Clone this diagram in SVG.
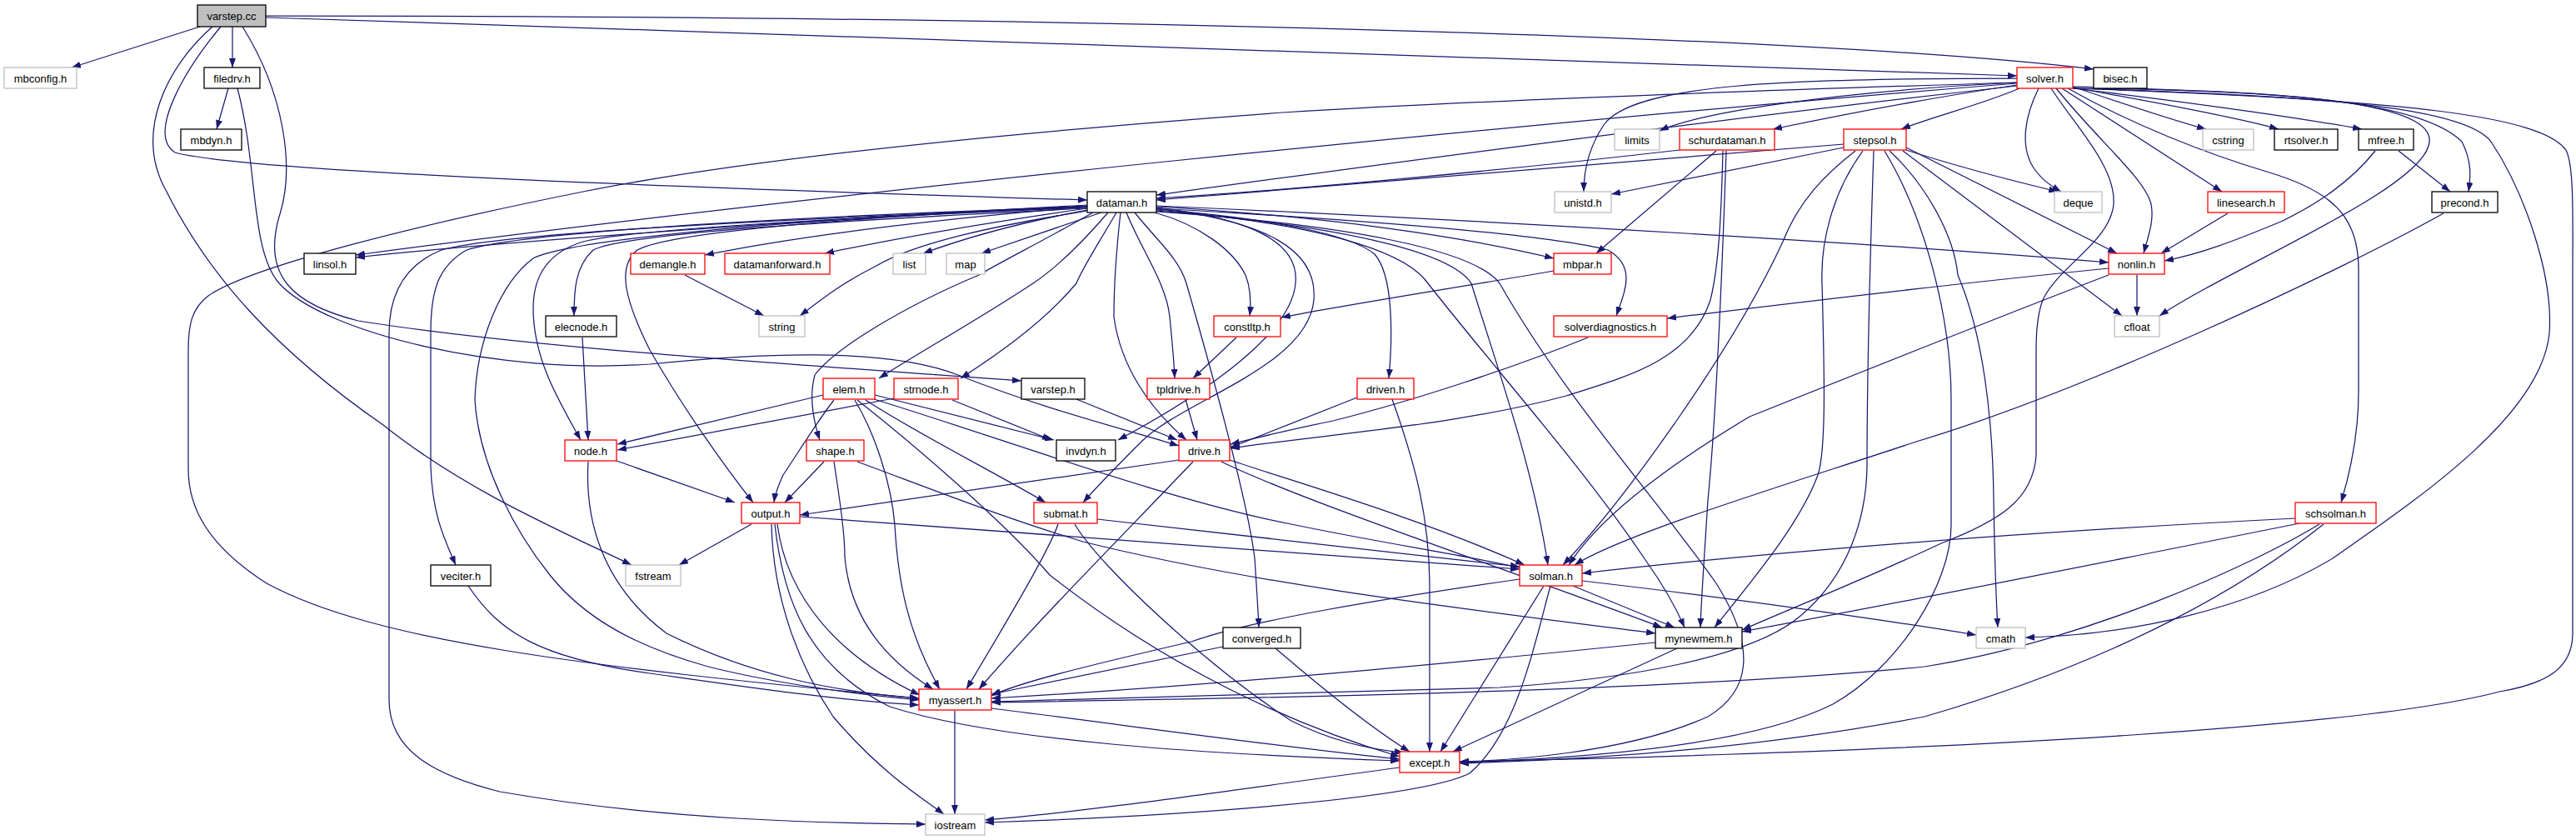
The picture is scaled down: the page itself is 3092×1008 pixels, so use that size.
<svg xmlns="http://www.w3.org/2000/svg" width="3092" height="1008" viewBox="0 0 3092 1008">
<defs>
<marker id="a" markerWidth="11" markerHeight="8" refX="11" refY="4" orient="auto" markerUnits="userSpaceOnUse"><path d="M0,0L11,4L0,8z" fill="#191970"/></marker>
<style>
.e path{fill:none;stroke:#191970;stroke-width:1.25;marker-end:url(#a)}
.n rect{fill:#fff;stroke:#000;stroke-width:1.3}
.r rect{stroke:#ff0000}
.g rect{stroke:#bfbfbf}
.c rect{fill:#bfbfbf}
.n text{font-family:"Liberation Sans",Arial,sans-serif;font-size:13px;text-anchor:middle;fill:#000}
</style>
</defs>
<rect width="3092" height="1008" fill="#fff"/>
<g id="edges" class="e">
<path d="M240,32 L86,81"/>
<path d="M279,32 L279,81"/>
<path d="M319,19 C1200,19 2150,40 2513,83"/>
<path d="M319,21 C1100,45 2000,82 2421,91"/>
<path d="M265,32 C225,80 175,160 210,183 C290,205 800,225 1305,240"/>
<path d="M255,32 C200,80 160,160 200,230 C250,330 330,420 460,510 C560,590 680,640 758,678"/>
<path d="M291,32 C340,110 355,200 335,260 C315,330 350,365 430,385 C650,420 1000,440 1226,457"/>
<path d="M274,106 L260,155"/>
<path d="M285,106 C310,200 300,300 335,340 C390,400 600,450 780,437 C900,425 1060,415 1150,450 C1250,490 1350,515 1415,535"/>
<path d="M2421,103 C2000,150 1600,205 1388,234"/>
<path d="M2421,100 C1800,150 1000,230 427,306"/>
<path d="M2421,99 C2200,110 2040,135 1992,157"/>
<path d="M2421,102 C2300,120 2200,140 2128,155"/>
<path d="M2421,94 C2150,94 1960,100 1925,150 C1905,180 1901,210 1901,230"/>
<path d="M2424,106 C2380,125 2320,140 2282,155"/>
<path d="M2447,106 C2430,140 2425,175 2440,200 C2450,215 2460,222 2474,230"/>
<path d="M2488,104 C2550,125 2610,145 2648,155"/>
<path d="M2488,105 C2600,125 2700,145 2735,155"/>
<path d="M2488,106 C2650,125 2780,145 2835,155"/>
<path d="M2488,104 C2700,110 2900,115 2955,170 C2968,195 2965,215 2963,230"/>
<path d="M2475,106 L2667,230"/>
<path d="M2468,106 C2520,170 2575,215 2582,245 C2586,265 2578,285 2573,304"/>
<path d="M2488,106 C2800,108 2930,130 2915,175 C2900,230 2680,320 2592,379"/>
<path d="M2462,106 C2490,150 2540,200 2537,245 C2533,290 2470,320 2452,360 C2445,378 2444,400 2444,420 L2444,547 C2440,600 2400,625 2330,652 C2250,690 2150,730 2091,756"/>
<path d="M2482,106 C2560,150 2650,185 2724,207 C2800,230 2830,260 2831,320 L2831,470 C2831,520 2820,570 2810,603"/>
<path d="M2488,106 C2800,115 2960,130 2990,170 C3030,230 3065,330 3060,400 C3050,500 2900,600 2800,670 C2700,730 2560,762 2431,765"/>
<path d="M2488,106 C2900,120 3050,140 3080,180 C3090,200 3088,260 3088,340 L3088,760 C3088,800 3060,820 3000,830 C2850,870 2400,900 1752,914"/>
<path d="M2421,99 C2000,112 1700,125 1540,135 C1200,160 900,190 700,230 C500,270 300,320 250,355 C230,370 226,390 226,420 L226,563 C226,610 250,655 320,700 C450,770 700,800 1103,838"/>
<path d="M2213,173 C1900,200 1600,225 1388,240"/>
<path d="M2213,177 C2100,200 1990,222 1934,233"/>
<path d="M2288,180 C2350,200 2420,218 2470,230"/>
<path d="M2288,177 L2541,304"/>
<path d="M2284,181 L2547,379"/>
<path d="M2268,181 C2310,220 2345,280 2350,330 C2380,400 2392,500 2393,600 C2394,660 2396,720 2398,753"/>
<path d="M2262,181 C2310,260 2342,380 2342,480 L2342,630 C2342,700 2280,800 2200,845 C2100,895 1900,910 1752,915"/>
<path d="M2227,181 C2190,210 2160,240 2140,290 C2080,420 1950,600 1876,678"/>
<path d="M2236,181 C2200,230 2185,290 2187,340 C2190,450 2192,540 2182,570 C2160,630 2100,700 2058,753"/>
<path d="M2249,181 C2245,300 2241,450 2241,560 C2240,620 2220,690 2160,740 C2100,790 1950,815 1800,825 C1500,835 1300,840 1190,842"/>
<path d="M2016,180 C1800,205 1550,228 1388,238"/>
<path d="M2060,181 L1916,304"/>
<path d="M2072,181 C2068,300 2060,500 2050,600 C2045,680 2042,720 2041,753"/>
<path d="M2068,181 C2066,260 2063,320 2053,360 C2030,430 1960,450 1880,475 C1750,510 1600,520 1477,538"/>
<path d="M1305,246 C1000,262 600,290 427,309"/>
<path d="M1305,248 C1100,265 950,285 846,306"/>
<path d="M1305,250 C1200,265 1080,285 990,304"/>
<path d="M1305,252 C1230,266 1160,285 1108,304"/>
<path d="M1322,255 L1178,304"/>
<path d="M1305,253 C1200,270 1100,290 1050,320 C1010,340 985,360 960,379"/>
<path d="M1312,255 C1250,290 1200,315 1175,330 C1080,370 1000,420 978,450 C970,480 978,510 984,528"/>
<path d="M1330,255 C1300,290 1270,320 1240,340 C1180,380 1100,425 1055,454"/>
<path d="M1340,255 C1320,290 1300,320 1292,340 C1250,390 1190,430 1153,454"/>
<path d="M1345,255 C1340,300 1337,340 1337,380 C1345,440 1380,490 1424,528"/>
<path d="M1352,255 C1370,300 1400,340 1404,380 C1407,410 1409,430 1410,454"/>
<path d="M1362,255 C1390,290 1415,310 1424,340 C1470,500 1500,620 1506,670 C1508,700 1510,730 1511,753"/>
<path d="M1386,255 C1440,270 1480,300 1495,330 C1501,345 1502,360 1500,379"/>
<path d="M1305,250 C1000,265 750,280 712,300 C690,320 689,350 689,379"/>
<path d="M1305,249 C1000,262 760,275 700,290 C650,305 640,340 640,370 C640,430 670,480 697,528"/>
<path d="M1305,247 C1000,262 800,280 765,300 C740,320 750,360 780,420 C820,490 870,560 904,603"/>
<path d="M1305,248 C900,265 600,280 530,300 C480,320 467,360 467,400 L467,840 C467,900 520,930 600,950 C800,985 1000,988 1111,989"/>
<path d="M1305,248 C900,262 620,280 560,300 C525,320 517,350 517,400 L517,560 C519,620 535,650 547,678"/>
<path d="M1305,248 C900,265 680,290 640,310 C600,340 572,410 570,480 C575,560 620,640 660,690 C700,740 760,775 850,800 C950,825 1050,835 1103,840"/>
<path d="M1388,248 C1600,260 1760,285 1865,310"/>
<path d="M1388,247 C1800,265 2300,295 2531,315"/>
<path d="M1388,250 C1600,262 1850,280 1930,300 C1965,320 1950,350 1940,379"/>
<path d="M1388,251 C1520,262 1620,280 1650,305 C1672,330 1672,400 1667,454"/>
<path d="M1388,252 C1580,268 1680,300 1710,335 C1800,450 1900,560 1975,672 C1995,700 2012,730 2022,753"/>
<path d="M1388,253 C1600,270 1740,300 1766,340 C1800,450 1840,560 1858,678"/>
<path d="M1388,254 C1620,270 1770,300 1800,340 C1880,480 1990,600 2060,700 C2110,780 2100,830 2050,860 C1950,905 1800,913 1752,914"/>
<path d="M1388,249 C1500,262 1560,290 1555,340 C1550,400 1450,470 1342,528"/>
<path d="M1388,250 C1520,265 1582,300 1577,360 C1570,440 1420,480 1370,530 C1340,560 1320,580 1300,603"/>
<path d="M1865,325 C1750,345 1620,365 1538,381"/>
<path d="M822,330 L917,379"/>
<path d="M1484,405 L1432,454"/>
<path d="M1423,479 L1437,528"/>
<path d="M699,405 L706,528"/>
<path d="M1292,479 L1413,528"/>
<path d="M1629,477 L1477,537"/>
<path d="M1671,479 C1700,560 1715,620 1716,700 L1716,902"/>
<path d="M1906,405 C1820,440 1700,480 1600,505 C1550,515 1510,525 1477,533"/>
<path d="M988,474 L741,533"/>
<path d="M1001,480 C985,500 960,540 940,570 C933,585 930,595 929,603"/>
<path d="M1026,480 C1050,520 1070,580 1074,630 C1078,700 1090,760 1128,827"/>
<path d="M1029,480 C1080,520 1200,620 1260,690 C1400,800 1550,870 1680,908"/>
<path d="M1049,479 C1200,525 1400,600 1550,629 C1650,650 1750,665 1824,681"/>
<path d="M1050,474 L1265,528"/>
<path d="M1039,480 C1100,520 1200,570 1255,603"/>
<path d="M1073,478 L741,540"/>
<path d="M1143,480 L1262,528"/>
<path d="M740,553 L882,603"/>
<path d="M706,554 C702,620 720,700 800,760 C900,810 1000,830 1103,838"/>
<path d="M989,554 L942,603"/>
<path d="M1001,554 C1008,600 1014,640 1014,668 C1020,740 1060,790 1120,827"/>
<path d="M1029,554 C1100,580 1200,620 1300,650 C1500,700 1750,730 1987,760"/>
<path d="M902,629 L815,678"/>
<path d="M926,629 C928,720 960,800 1000,860 C1060,930 1110,960 1133,977"/>
<path d="M933,629 C945,720 1010,790 1104,834"/>
<path d="M930,629 C940,720 970,800 1068,848 C1200,890 1450,905 1680,913"/>
<path d="M960,620 C1200,640 1500,660 1824,683"/>
<path d="M1317,623 C1480,640 1650,660 1824,680"/>
<path d="M1270,629 C1260,660 1200,760 1160,827"/>
<path d="M1290,629 C1320,680 1450,800 1550,865 C1600,890 1650,900 1685,903"/>
<path d="M1415,552 L960,618"/>
<path d="M1476,552 C1550,577 1700,620 1830,678"/>
<path d="M1466,554 C1560,600 1800,680 1995,753"/>
<path d="M1432,554 C1350,640 1250,740 1175,827"/>
<path d="M1888,703 L2010,753"/>
<path d="M1824,695 C1650,720 1500,745 1430,770 C1300,800 1220,820 1190,835"/>
<path d="M1853,703 L1729,902"/>
<path d="M1899,697 C2100,720 2300,750 2372,762"/>
<path d="M1861,703 C1840,780 1820,880 1764,928 C1700,960 1400,980 1182,987"/>
<path d="M1987,771 C1800,790 1500,820 1190,838"/>
<path d="M2013,778 L1744,902"/>
<path d="M1146,853 L1146,977"/>
<path d="M1190,850 C1350,870 1550,898 1680,911"/>
<path d="M1680,921 C1500,945 1300,975 1182,984"/>
<path d="M1468,776 L1190,833"/>
<path d="M1531,778 C1580,820 1640,870 1692,902"/>
<path d="M562,703 C600,760 650,790 780,808 C900,825 1000,840 1103,846"/>
<path d="M2755,622 C2400,640 2100,665 1899,688"/>
<path d="M2760,628 C2600,660 2300,720 2091,758"/>
<path d="M2784,629 C2700,680 2500,770 2310,800 C2000,830 1500,838 1190,843"/>
<path d="M2789,629 C2700,700 2550,790 2310,860 C2100,900 1900,912 1752,916"/>
<path d="M2851,181 C2820,220 2780,245 2740,265 C2680,290 2640,305 2598,313"/>
<path d="M2879,181 L2941,230"/>
<path d="M2674,256 L2594,304"/>
<path d="M2565,330 L2565,379"/>
<path d="M2531,322 C2300,345 2100,370 2001,382"/>
<path d="M2531,330 C2400,380 2300,420 2100,500 C2000,560 1920,620 1883,678"/>
<path d="M2933,256 C2800,330 2500,470 2300,530 C2150,580 1950,640 1890,678"/>
</g>
<g id="n-varstep-cc" class="n c"><rect x="237" y="6" width="82" height="26"/><text x="278" y="24">varstep.cc</text></g>
<g id="n-mbconfig-h" class="n g"><rect x="5" y="81" width="87" height="25"/><text x="48.5" y="98.5">mbconfig.h</text></g>
<g id="n-filedrv-h" class="n"><rect x="245" y="81" width="67" height="25"/><text x="278.5" y="98.5">filedrv.h</text></g>
<g id="n-solver-h" class="n r"><rect x="2421" y="81" width="67" height="25"/><text x="2454.5" y="98.5">solver.h</text></g>
<g id="n-bisec-h" class="n"><rect x="2513" y="81" width="64" height="25"/><text x="2545" y="98.5">bisec.h</text></g>
<g id="n-mbdyn-h" class="n"><rect x="217" y="155" width="73" height="25"/><text x="253.5" y="172.5">mbdyn.h</text></g>
<g id="n-limits" class="n g"><rect x="1938" y="155" width="54" height="25"/><text x="1965" y="172.5">limits</text></g>
<g id="n-schurdataman-h" class="n r"><rect x="2016" y="155" width="114" height="25"/><text x="2073" y="172.5">schurdataman.h</text></g>
<g id="n-stepsol-h" class="n r"><rect x="2213" y="155" width="75" height="25"/><text x="2250.5" y="172.5">stepsol.h</text></g>
<g id="n-cstring" class="n g"><rect x="2644" y="155" width="61" height="25"/><text x="2674.5" y="172.5">cstring</text></g>
<g id="n-rtsolver-h" class="n"><rect x="2730" y="155" width="76" height="25"/><text x="2768" y="172.5">rtsolver.h</text></g>
<g id="n-mfree-h" class="n"><rect x="2831" y="155" width="66" height="25"/><text x="2864" y="172.5">mfree.h</text></g>
<g id="n-dataman-h" class="n"><rect x="1305" y="230" width="83" height="25"/><text x="1346.5" y="247.5">dataman.h</text></g>
<g id="n-unistd-h" class="n g"><rect x="1866" y="230" width="68" height="25"/><text x="1900" y="247.5">unistd.h</text></g>
<g id="n-deque" class="n g"><rect x="2466" y="230" width="57" height="25"/><text x="2494.5" y="247.5">deque</text></g>
<g id="n-linesearch-h" class="n r"><rect x="2650" y="230" width="92" height="25"/><text x="2696" y="247.5">linesearch.h</text></g>
<g id="n-precond-h" class="n"><rect x="2919" y="230" width="79" height="25"/><text x="2958.5" y="247.5">precond.h</text></g>
<g id="n-linsol-h" class="n"><rect x="365" y="304" width="62" height="25"/><text x="396" y="321.5">linsol.h</text></g>
<g id="n-demangle-h" class="n r"><rect x="757" y="304" width="89" height="25"/><text x="801.5" y="321.5">demangle.h</text></g>
<g id="n-datamanforward-h" class="n r"><rect x="870" y="304" width="126" height="25"/><text x="933" y="321.5">datamanforward.h</text></g>
<g id="n-list" class="n g"><rect x="1072" y="304" width="39" height="25"/><text x="1091.5" y="321.5">list</text></g>
<g id="n-map" class="n g"><rect x="1136" y="304" width="46" height="25"/><text x="1159" y="321.5">map</text></g>
<g id="n-mbpar-h" class="n r"><rect x="1865" y="304" width="69" height="25"/><text x="1899.5" y="321.5">mbpar.h</text></g>
<g id="n-nonlin-h" class="n r"><rect x="2531" y="304" width="67" height="25"/><text x="2564.5" y="321.5">nonlin.h</text></g>
<g id="n-elecnode-h" class="n"><rect x="655" y="379" width="85" height="25"/><text x="697.5" y="396.5">elecnode.h</text></g>
<g id="n-string" class="n g"><rect x="911" y="379" width="55" height="25"/><text x="938.5" y="396.5">string</text></g>
<g id="n-constltp-h" class="n r"><rect x="1457" y="379" width="80" height="25"/><text x="1497" y="396.5">constltp.h</text></g>
<g id="n-solverdiagnostics-h" class="n r"><rect x="1865" y="379" width="136" height="25"/><text x="1933" y="396.5">solverdiagnostics.h</text></g>
<g id="n-cfloat" class="n g"><rect x="2538" y="379" width="54" height="25"/><text x="2565" y="396.5">cfloat</text></g>
<g id="n-elem-h" class="n r"><rect x="988" y="454" width="62" height="25"/><text x="1019" y="471.5">elem.h</text></g>
<g id="n-strnode-h" class="n r"><rect x="1073" y="454" width="77" height="25"/><text x="1111.5" y="471.5">strnode.h</text></g>
<g id="n-varstep-h" class="n"><rect x="1226" y="454" width="76" height="25"/><text x="1264" y="471.5">varstep.h</text></g>
<g id="n-tpldrive-h" class="n r"><rect x="1377" y="454" width="75" height="25"/><text x="1414.5" y="471.5">tpldrive.h</text></g>
<g id="n-driven-h" class="n r"><rect x="1629" y="454" width="68" height="25"/><text x="1663" y="471.5">driven.h</text></g>
<g id="n-node-h" class="n r"><rect x="678" y="528" width="62" height="25"/><text x="709" y="545.5">node.h</text></g>
<g id="n-shape-h" class="n r"><rect x="968" y="528" width="69" height="25"/><text x="1002.5" y="545.5">shape.h</text></g>
<g id="n-invdyn-h" class="n"><rect x="1268" y="528" width="71" height="25"/><text x="1303.5" y="545.5">invdyn.h</text></g>
<g id="n-drive-h" class="n r"><rect x="1415" y="528" width="61" height="25"/><text x="1445.5" y="545.5">drive.h</text></g>
<g id="n-output-h" class="n r"><rect x="890" y="603" width="70" height="25"/><text x="925" y="620.5">output.h</text></g>
<g id="n-submat-h" class="n r"><rect x="1241" y="603" width="76" height="25"/><text x="1279" y="620.5">submat.h</text></g>
<g id="n-schsolman-h" class="n r"><rect x="2755" y="603" width="97" height="25"/><text x="2803.5" y="620.5">schsolman.h</text></g>
<g id="n-veciter-h" class="n"><rect x="517" y="678" width="72" height="25"/><text x="553" y="695.5">veciter.h</text></g>
<g id="n-fstream" class="n g"><rect x="751" y="678" width="66" height="25"/><text x="784" y="695.5">fstream</text></g>
<g id="n-solman-h" class="n r"><rect x="1824" y="678" width="75" height="25"/><text x="1861.5" y="695.5">solman.h</text></g>
<g id="n-converged-h" class="n"><rect x="1468" y="753" width="93" height="25"/><text x="1514.5" y="770.5">converged.h</text></g>
<g id="n-mynewmem-h" class="n"><rect x="1987" y="753" width="104" height="25"/><text x="2039" y="770.5">mynewmem.h</text></g>
<g id="n-cmath" class="n g"><rect x="2372" y="753" width="59" height="25"/><text x="2401.5" y="770.5">cmath</text></g>
<g id="n-myassert-h" class="n r"><rect x="1103" y="827" width="87" height="25"/><text x="1146.5" y="844.5">myassert.h</text></g>
<g id="n-except-h" class="n r"><rect x="1680" y="902" width="72" height="25"/><text x="1716" y="919.5">except.h</text></g>
<g id="n-iostream" class="n g"><rect x="1111" y="977" width="71" height="25"/><text x="1146.5" y="994.5">iostream</text></g>
</svg>
